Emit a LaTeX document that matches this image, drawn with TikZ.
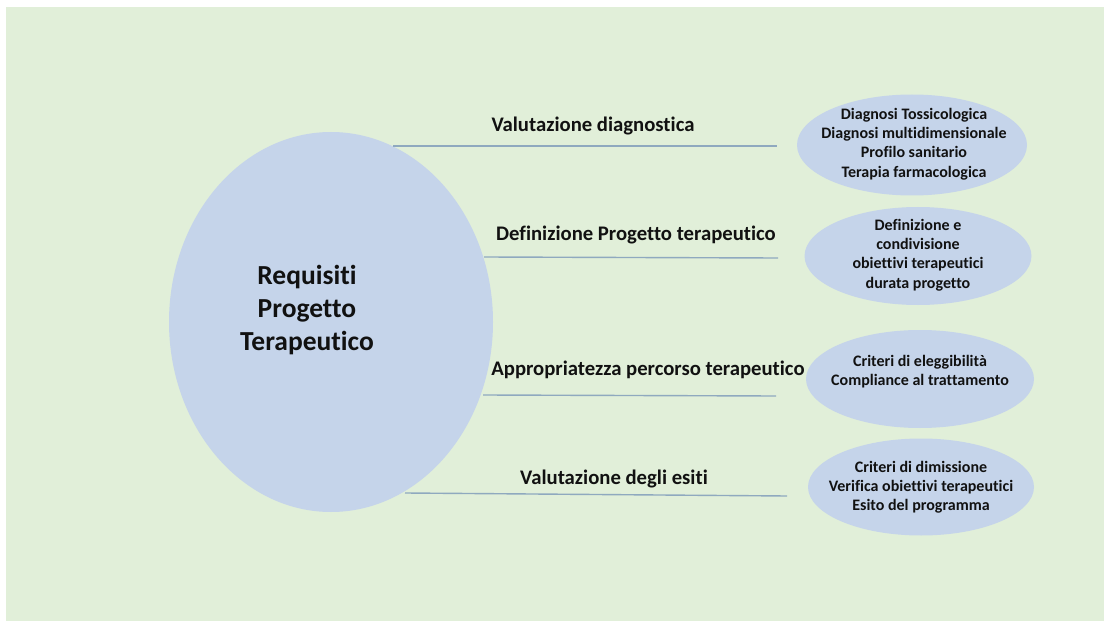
\documentclass[tikz,border=0pt]{standalone}
\usepackage{fontspec}
\setmainfont{Carlito}[Ligatures=CommonOff]
\usetikzlibrary{shapes.geometric}
\definecolor{bggreen}{HTML}{E1EFD9}
\definecolor{ellblue}{HTML}{C5D4EA}
\definecolor{linecol}{HTML}{8FA9BF}
\definecolor{txt}{HTML}{111111}
\tikzset{
  ellbox/.style={ellipse, fill=ellblue, inner sep=0pt},
  bigtext/.style={text=txt, font=\bfseries\fontsize{27.5}{33}\selectfont, align=center, inner sep=0pt},
  smalltext/.style={text=txt, font=\bfseries\fontsize{16}{19.2}\selectfont, align=center, inner sep=0pt},
  lbl/.style={text=txt, font=\bfseries\fontsize{20.7}{24}\selectfont, inner sep=0pt},
  conn/.style={draw=linecol, line width=1.4pt}
}
\begin{document}
\begin{tikzpicture}[x=1pt,y=-1pt]
\useasboundingbox (0,0) rectangle (1104,623);
\fill[white] (0,0) rectangle (1104,623);
\fill[bggreen] (6,7) rectangle (1104,621);

\node[ellbox, minimum width=324pt, minimum height=380pt] (big) at (331,322) {};
\node[bigtext] (bigt) at (307,310) {Requisiti\\Progetto\\Terapeutico};

\node[ellbox, minimum width=230pt, minimum height=101pt] (s1) at (912,145) {};
\node[smalltext] (t1) at (914,144) {Diagnosi Tossicologica\\Diagnosi multidimensionale\\Profilo sanitario\\Terapia farmacologica};
\node[ellbox, minimum width=227pt, minimum height=98pt] (s2) at (918,256) {};
\node[smalltext] (t2) at (918,255) {Definizione e\\condivisione\\obiettivi terapeutici\\durata progetto};
\node[ellbox, minimum width=228pt, minimum height=98pt] (s3) at (920,379) {};
\node[smalltext] (t3) at (920,372) {Criteri di eleggibilità\\Compliance al trattamento};
\node[ellbox, minimum width=226pt, minimum height=97pt] (s4) at (921,487) {};
\node[smalltext] (t4) at (921,487) {Criteri di dimissione\\Verifica obiettivi terapeutici\\Esito del programma};

\coordinate (a1) at (393,146); \coordinate (b1) at (777,146);
\coordinate (a2) at (484,257); \coordinate (b2) at (778,258);
\coordinate (a3) at (483,395); \coordinate (b3) at (776,396);
\coordinate (a4) at (405,493); \coordinate (b4) at (787,496);

\draw[conn] (a1) -- (b1);
\draw[conn] (a2) -- (b2);
\draw[conn] (a3) -- (b3);
\draw[conn] (a4) -- (b4);

\node[lbl] (l1) at (593,126) {Valutazione diagnostica};
\node[lbl] (l2) at (636,235) {Definizione Progetto terapeutico};
\node[lbl] (l3) at (648,370) {Appropriatezza percorso terapeutico};
\node[lbl] (l4) at (614,479) {Valutazione degli esiti};
\end{tikzpicture}
\end{document}
